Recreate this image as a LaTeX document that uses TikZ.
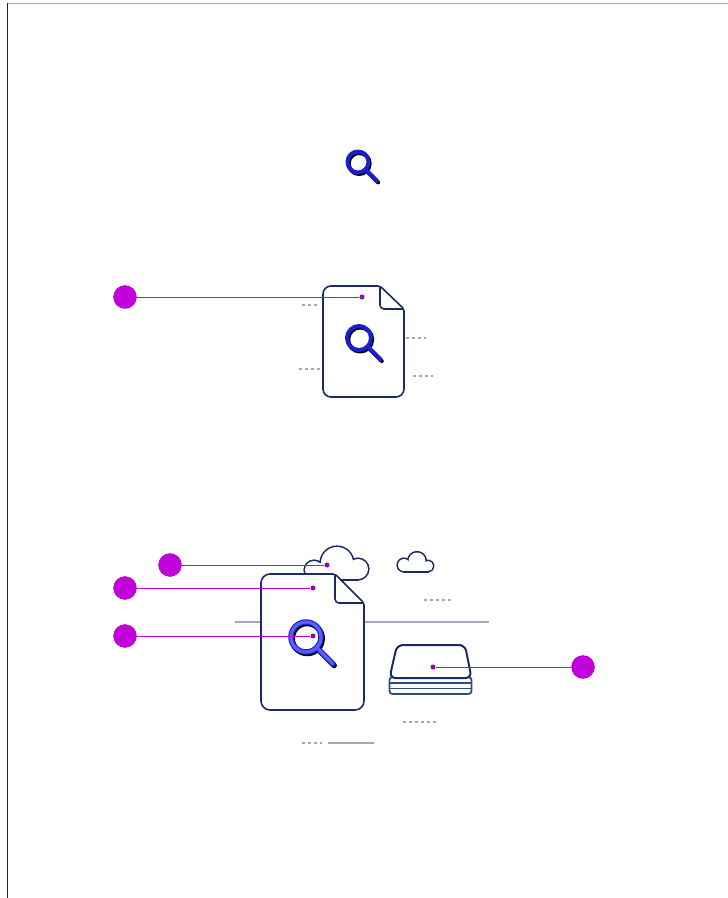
\documentclass[tikz,border=0pt]{standalone}
\usetikzlibrary{positioning}

\definecolor{navy}{HTML}{1C2A63}
\definecolor{slate}{HTML}{2F4C7E}
\definecolor{haze}{HTML}{A0A7C0}
\definecolor{callpink}{HTML}{C200DC}
\definecolor{lensdark}{HTML}{1A1ED0}
\definecolor{lenslight}{HTML}{5A5EFF}

\tikzset{
  callout/.style={circle, fill=callpink, draw=callpink!85!black, line width=0.4pt,
    inner sep=0pt, minimum size=23pt},
  calltip/.style={circle, fill=callpink!80!black, inner sep=0pt, minimum size=5pt},
  callline/.style={callpink, line width=1pt},
  doc/.style={navy, line width=1.6pt, fill=white, line join=round},
  hint/.style={haze, line width=1.6pt, dash pattern=on 3pt off 3pt},
  cloudline/.style={navy, line width=3.2pt},
}

% magnifying glass: x, y, radius, ring width, inner colour
\newcommand\lens[5]{%
  \draw[black, line width=#4, line cap=round]
    (#1+1.2,#2+1.5) circle (#3)
    (#1+0.72*#3+1.2,#2+0.72*#3+1.5) -- (#1+1.8*#3+1.2,#2+1.8*#3+1.5);
  \draw[lensdark, line width=#4, line cap=round]
    (#1,#2) circle (#3)
    (#1+0.72*#3,#2+0.72*#3) -- (#1+1.8*#3,#2+1.8*#3);
  \draw[#5, line width=#4-2.2pt, line cap=round]
    (#1,#2) circle (#3)
    (#1+0.72*#3,#2+0.72*#3) -- (#1+1.8*#3,#2+1.8*#3);
}

\begin{document}
\begin{tikzpicture}[x=1pt, y=-1pt, line join=round]
  \useasboundingbox (0,0) rectangle (728,898);
  % frame
  \draw[gray!70, line width=1.2pt] (7,3.5) -- (728,3.5);
  \draw[black!85, line width=1.5pt] (7.5,3) -- (7.5,898);

  % single lens
  \lens{358}{162}{10.5}{4pt}{lensdark}

  % file with lens
  \draw[hint] (302,305) -- (317,305);
  \draw[hint] (299,369) -- (322,369);
  \draw[hint] (406,338) -- (426,338);
  \draw[hint] (413,376) -- (433,376);
  \draw[doc] (380,286) [rounded corners=8] -- (323,286) -- (323,397) -- (404,397)
    [rounded corners=2] -- (404,309) -- cycle;
  \draw[navy, line width=1.6pt, rounded corners=4] (380,287) -- (380,309) -- (403,309);
  \lens{359}{338}{12}{4pt}{lensdark}

  \node[callout] (fileA) at (125,297) {};
  \node[calltip] (fileAend) at (362,297) {};
  \draw[callline] (fileA) -- (fileAend);

  % file, clouds and storage
  \draw[haze, line width=1.5pt] (235,622) -- (489,622);
  \foreach \cx/\cy/\r in {314/570/9, 337/563/16, 358/569/10}
    \draw[cloudline] (\cx,\cy) circle (\r);
  \draw[cloudline] (314,563) rectangle (358,579);
  \foreach \cx/\cy/\r in {314/570/9, 337/563/16, 358/569/10}
    \fill[white] (\cx,\cy) circle (\r);
  \fill[white] (314,563) rectangle (358,579);

  \draw[doc] (335,574) [rounded corners=9] -- (261,574) -- (261,710) -- (364,710)
    [rounded corners=2] -- (364,603) -- cycle;
  \draw[navy, line width=1.6pt, rounded corners=4] (335,575) -- (335,603) -- (363,603);
  \lens{306}{637}{15}{5.5pt}{lenslight}

  \foreach \cx/\cy/\r in {404/565/6, 417/561/8.5, 428/566/5}
    \draw[cloudline] (\cx,\cy) circle (\r);
  \draw[cloudline] (404,563) rectangle (428,571);
  \foreach \cx/\cy/\r in {404/565/6, 417/561/8.5, 428/566/5}
    \fill[white] (\cx,\cy) circle (\r);
  \fill[white] (404,563) rectangle (428,571);

  \draw[hint] (424,600) -- (451,600);
  \draw[hint] (403,722) -- (436,722);
  \draw[hint] (302,743) -- (322,743);
  \draw[haze, line width=1.8pt] (328,743) -- (374,743);

  % storage stack
  \draw[slate, line width=1.8pt, rounded corners=3] (389.5,677) rectangle (471.5,694);
  \draw[slate, line width=1.8pt] (389.5,683) -- (471.5,683) (389.5,688.5) -- (471.5,688.5);
  \draw[navy, line width=2pt, fill=white, rounded corners=6]
    (389.5,678) -- (397,645) -- (465,645) -- (471.5,678) -- cycle;

  \node[callout] (cloud) at (170,565) {};
  \node[calltip] (cloudend) at (327,565) {};
  \draw[callline] (cloud) -- (cloudend);
  \node[callout] (fileB) at (125,588) {};
  \node[calltip] (fileBend) at (313,588) {};
  \draw[callline] (fileB) -- (fileBend);
  \node[callout] (lens) at (125,636) {};
  \node[calltip] (lensend) at (313,636) {};
  \draw[callline] (lens) -- (lensend);
  \node[callout] (disk) at (583,667) {};
  \node[calltip] (diskend) at (433,667) {};
  \draw[callline] (disk) -- (diskend);
\end{tikzpicture}
\end{document}
